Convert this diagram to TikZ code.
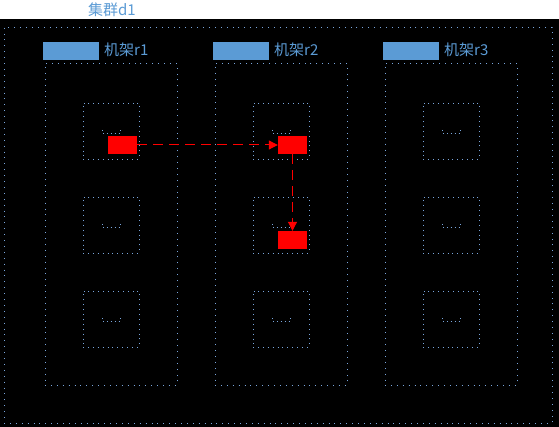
\documentclass[tikz,border=0pt]{standalone}
\usepackage{fontspec}
\setmainfont{Noto Sans CJK SC}
\usetikzlibrary{arrows.meta}
\definecolor{labelblue}{HTML}{5B9BD5}
\definecolor{dotblue}{HTML}{7AA6DC}
\begin{document}
\begin{tikzpicture}[x=1pt,y=-1pt,
  dotbox/.style={draw=dotblue,line width=0.9pt,dash pattern=on 0.9pt off 5pt,inner sep=0pt,rectangle},
  rack/.style={dotbox,minimum width=132pt,minimum height=322pt},
  host/.style={dotbox,dash pattern=on 0.9pt off 4pt,minimum width=56pt,minimum height=56pt},
  tag/.style={fill=labelblue,minimum width=56pt,minimum height=18pt,inner sep=0pt},
  tagtext/.style={text=labelblue,font=\fontsize{15}{16}\selectfont,anchor=west,inner sep=0pt},
  block/.style={fill=red,minimum width=29pt,minimum height=18pt,inner sep=0pt},
  move/.style={red,line width=1pt,dash pattern=on 10pt off 6pt,-{Triangle[length=9pt,width=9pt]}}]
\useasboundingbox (0,0) rectangle (559,427);
\fill[white] (0,0) rectangle (559,19);
\fill[black] (0,19) rectangle (559,427);
% cluster
\node[tagtext,anchor=center] (title) at (112,10) {集群d1};
\node[dotbox,minimum width=548pt,minimum height=396pt] (d1) at (278,225) {};
% racks
\node[rack] (r1) at (111,224) {};
\node[rack] (r2) at (281,224) {};
\node[rack] (r3) at (451,224) {};
\node[tag] (t1) at (71,51) {};
\node[tag] (t2) at (241,51) {};
\node[tag] (t3) at (411,51) {};
\node[tagtext] (l1) at (104,50) {机架r1};
\node[tagtext] (l2) at (274,50) {机架r2};
\node[tagtext] (l3) at (444,50) {机架r3};
% hosts
\node[host] (h11) at (111,131) {};
\node[host] (h12) at (111,225) {};
\node[host] (h13) at (111,319) {};
\node[host] (h21) at (281,131) {};
\node[host] (h22) at (281,225) {};
\node[host] (h23) at (281,319) {};
\node[host] (h31) at (451,131) {};
\node[host] (h32) at (451,225) {};
\node[host] (h33) at (451,319) {};
\foreach \h in {h11,h12,h13,h21,h22,h23,h31,h32,h33}
  \draw[dotbox,dash pattern=on 0.9pt off 3pt]
    ([xshift=-9pt,yshift=1pt]\h.center) -- ([xshift=-9pt,yshift=-2pt]\h.center)
    -- ([xshift=9pt,yshift=-2pt]\h.center) -- ([xshift=9pt,yshift=1pt]\h.center);
% blocks
\node[block] (b1) at (122.5,145) {};
\node[block] (b2) at (292.5,145) {};
\node[block] (b3) at (292.5,240) {};
\draw[move] (b1.east) -- (b2.west);
\draw[move] (b2.south) -- (b3.north);
\end{tikzpicture}
\end{document}
